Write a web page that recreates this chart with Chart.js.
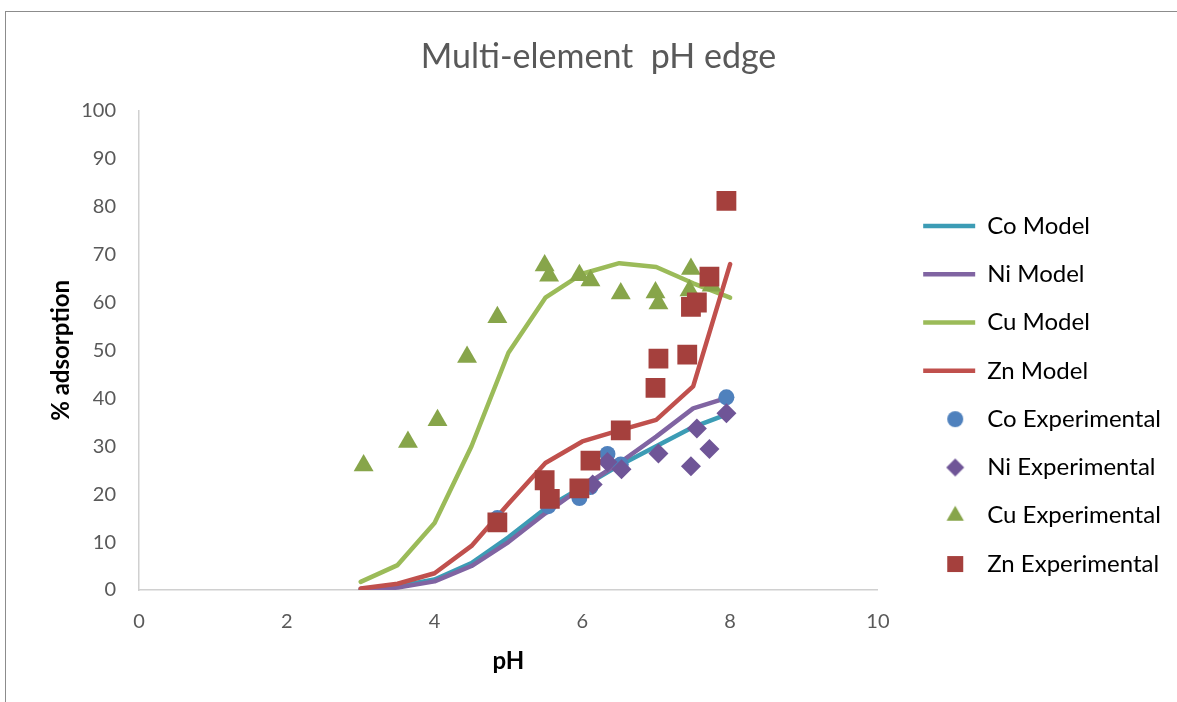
<!DOCTYPE html>
<html lang="en">
<head>
<meta charset="UTF-8">
<title>Multi-element pH edge</title>
<script src="https://cdn.jsdelivr.net/npm/chart.js@4.4.0/dist/chart.umd.min.js"></script>
<style>
  html, body { margin: 0; padding: 0; background: #fff; overflow: hidden; }
  #frame { position: absolute; left: 5px; top: 11px; width: 1190px; height: 700px; border: 1px solid #8c8c8c; }
</style>
</head>
<body>
<div id="frame"><canvas id="edgeChart" width="1190" height="700"></canvas></div>
<script>
// model curves (pH steps of 0.5)
const modelPH = [3, 3.5, 4, 4.5, 5, 5.5, 6, 6.5, 7, 7.5, 8];
const coModel = [0.2, 0.8, 2.2, 5.6, 11, 17, 21.5, 26, 30, 34, 36.9];
const niModel = [0, 0.5, 1.8, 5.0, 10, 16, 21.5, 26.5, 32, 37.9, 40.3];
const cuModel = [1.7, 5.2, 14, 30, 49.5, 61, 66, 68.2, 67.4, 64, 61];
const znModel = [0.3, 1.3, 3.5, 9.2, 18, 26.5, 31, 33.3, 35.5, 42.5, 68];

// experimental points
const coExpPH = [4.85, 5.54, 5.96, 6.11, 6.34, 6.52, 7.95];
const coExp   = [15, 17.5, 19.2, 21.5, 28.4, 26.2, 40.2];
const niExpPH = [6.14, 6.34, 6.53, 7.03, 7.47, 7.55, 7.72, 7.95];
const niExp   = [22, 26.7, 25.2, 28.5, 25.8, 33.7, 29.4, 36.9];
const cuExpPH = [3.04, 3.64, 4.04, 4.44, 4.85, 5.49, 5.55, 5.96, 6.11, 6.52, 6.99, 7.03, 7.47, 7.45, 7.75];
const cuExp   = [26, 30.9, 35.4, 48.6, 56.9, 67.7, 65.6, 65.7, 64.6, 61.9, 62.1, 59.8, 67, 62.5, 63.5];
const znExpPH = [4.85, 5.49, 5.56, 5.96, 6.11, 6.52, 6.99, 7.03, 7.42, 7.47, 7.55, 7.72, 7.95];
const znExp   = [14.1, 22.9, 19, 21.2, 27, 33.3, 42.2, 48.3, 49.1, 59.1, 60, 65.4, 81.2];

const xTicks = [0, 2, 4, 6, 8, 10];
const yTicks = [0, 10, 20, 30, 40, 50, 60, 70, 80, 90, 100];

function pts(xs, ys) {
    return xs.map((x, i) => ({ x: x, y: ys[i] }));
}

function modelSet(label, ys, color, order) {
    return {
        label: label,
        data: pts(modelPH, ys),
        showLine: true,
        borderColor: color,
        backgroundColor: color,
        borderWidth: 4.5,
        borderCapStyle: 'round',
        borderJoinStyle: 'round',
        pointRadius: 0,
        pointStyle: 'line',
        order: order
    };
}

function expSet(label, xs, ys, color, style, radius, order) {
    return {
        label: label,
        data: pts(xs, ys),
        showLine: false,
        backgroundColor: color,
        borderColor: color,
        borderWidth: 0,
        pointStyle: style,
        pointRadius: radius,
        order: order
    };
}

// legend markers keep their own size (the line samples are stretched by pointStyleWidth)
const legendRadius = { circle: 8, rectRot: 9, triangle: 10, rect: 11.3 };
function legendMarker(style, color) {
    const c = document.createElement('canvas');
    c.width = 40; c.height = 24;
    const g = c.getContext('2d');
    g.fillStyle = color;
    Chart.helpers.drawPoint(g, { pointStyle: style, radius: legendRadius[style], borderWidth: 0 }, 26, 12);
    return c;
}

// nudge the legend block to where Excel put it
const legendNudge = {
    id: 'legendNudge',
    afterLayout(chart) {
        const lg = chart.legend;
        lg.left += 21; lg.right += 21;
        lg.top += 48; lg.bottom += 48;
    }
};

Chart.defaults.font.family = 'Lato';
const baseLabels = Chart.defaults.plugins.legend.labels.generateLabels;

const ctx = document.getElementById('edgeChart').getContext('2d');
new Chart(ctx, {
    type: 'scatter',
    data: {
        datasets: [
            modelSet('Co Model', coModel, '#3c9cb5', 8),
            modelSet('Ni Model', niModel, '#8064a2', 7),
            modelSet('Cu Model', cuModel, '#9bbb59', 6),
            modelSet('Zn Model', znModel, '#c0504d', 5),
            expSet('Co Experimental', coExpPH, coExp, '#4f81bd', 'circle', 8, 4),
            expSet('Ni Experimental', niExpPH, niExp, '#6f5597', 'rectRot', 10, 3),
            expSet('Cu Experimental', cuExpPH, cuExp, '#87a54a', 'triangle', 11.5, 2),
            expSet('Zn Experimental', znExpPH, znExp, '#a5403d', 'rect', 14, 1)
        ]
    },
    options: {
        responsive: false,
        animation: false,
        layout: { padding: { left: 41, right: 46, top: 0, bottom: 30 } },
        plugins: {
            title: {
                display: true,
                text: 'Multi-element  pH edge',
                color: '#595959',
                font: { size: 34, weight: 'normal' },
                padding: { top: 25, bottom: 33 }
            },
            legend: {
                position: 'right',
                labels: {
                    usePointStyle: true,
                    pointStyleWidth: 52,
                    boxHeight: 12,
                    padding: 24.3,
                    color: '#000000',
                    font: { size: 24 },
                    sort: (a, b) => a.datasetIndex - b.datasetIndex,
                    generateLabels(chart) {
                        return baseLabels(chart).map(item => {
                            const ds = chart.data.datasets[item.datasetIndex];
                            if (!ds.showLine) {
                                item.pointStyle = legendMarker(ds.pointStyle, ds.backgroundColor);
                            }
                            return item;
                        });
                    }
                }
            },
            tooltip: { enabled: false }
        },
        scales: {
            x: {
                type: 'linear',
                min: 0,
                max: 10,
                afterBuildTicks: s => { s.ticks = xTicks.map(v => ({ value: v })); },
                afterFit: s => { s.height = 92; },
                grid: { display: false, drawTicks: false },
                border: { display: true, color: '#d0d0d0', width: 1.5 },
                ticks: { color: '#595959', font: { size: 20 }, padding: 20 },
                title: {
                    display: true,
                    text: 'pH',
                    color: '#000000',
                    font: { size: 24, weight: 'bold' },
                    padding: { top: 0, bottom: 6 }
                }
            },
            y: {
                type: 'linear',
                min: 0,
                max: 100,
                afterBuildTicks: s => { s.ticks = yTicks.map(v => ({ value: v })); },
                afterFit: s => { s.width = 92; },
                grid: { display: false, drawTicks: false },
                border: { display: true, color: '#d0d0d0', width: 1.5 },
                ticks: { color: '#595959', font: { size: 20 }, padding: 23 },
                title: {
                    display: true,
                    text: '% adsorption',
                    color: '#000000',
                    font: { size: 24, weight: 'bold' },
                    padding: { top: 0, bottom: 0 }
                }
            }
        }
    },
    plugins: [legendNudge]
});
</script>
</body>
</html>
